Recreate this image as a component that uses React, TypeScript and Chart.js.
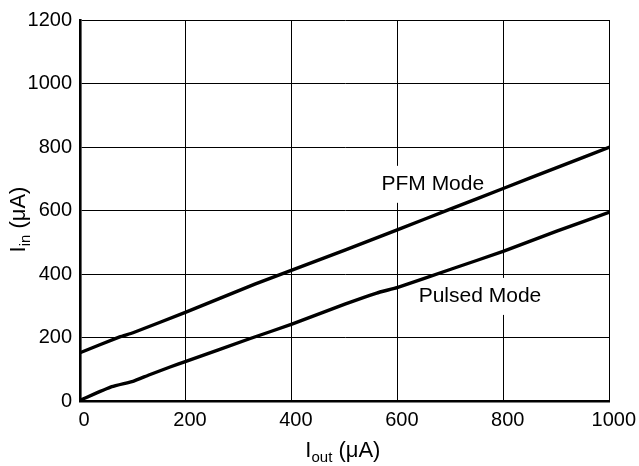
import { useEffect, useRef } from 'react';
import { Chart, registerables } from 'chart.js';

Chart.register(...registerables);

const FONT = '"Liberation Sans", Arial, Helvetica, sans-serif';

// PFM Mode curve (Iout µA -> Iin µA)
const pfmX = [0, 75, 100, 200, 330, 400, 500, 600, 700, 800, 900, 1000];
const pfmY = [152, 202, 215, 280, 368, 412, 475, 540, 605, 670, 735, 800];

// Pulsed Mode curve
const pulsedX = [0, 60, 100, 130, 170, 200, 320, 400, 500, 560, 600, 700, 800, 900, 1000];
const pulsedY = [2, 45, 62, 82, 107, 125, 196, 242, 305, 340, 358, 415, 472, 535, 595];

// Axis ranges / ticks
const xTicks = [0, 200, 400, 600, 800, 1000];
const yTicks = [0, 200, 400, 600, 800, 1000, 1200];

// In-plot labels (data coordinates of their centres)
const modeLabels = [
  { text: 'PFM Mode', x: 666, y: 684 },
  { text: 'Pulsed Mode', x: 755, y: 331 },
];

const modeLabelPlugin = {
  id: 'modeLabels',
  beforeDatasetsDraw(chart: any) {
    const { ctx, scales } = chart;
    ctx.save();
    ctx.font = `21px ${FONT}`;
    ctx.fillStyle = '#ffffff';
    modeLabels.forEach((l) => {
      const px = scales.x.getPixelForValue(l.x);
      const py = scales.y.getPixelForValue(l.y);
      const w = ctx.measureText(l.text).width;
      ctx.fillRect(px - w / 2 - 6, py - 18, w + 12, 37);
    });
    ctx.restore();
  },
  afterDatasetsDraw(chart: any) {
    const { ctx, scales } = chart;
    ctx.save();
    ctx.font = `21px ${FONT}`;
    ctx.fillStyle = '#000000';
    ctx.textAlign = 'center';
    ctx.textBaseline = 'middle';
    modeLabels.forEach((l) => {
      ctx.fillText(l.text, scales.x.getPixelForValue(l.x), scales.y.getPixelForValue(l.y));
    });
    ctx.restore();
  },
};

function drawSubTitle(ctx: CanvasRenderingContext2D, main: string, sub: string, rest: string) {
  const big = `22px ${FONT}`;
  const small = `15px ${FONT}`;
  ctx.font = big;
  const w1 = ctx.measureText(main).width;
  const w3 = ctx.measureText(rest).width;
  ctx.font = small;
  const w2 = ctx.measureText(sub).width;
  const total = w1 + w2 + w3;
  let x = -total / 2;
  ctx.textAlign = 'left';
  ctx.textBaseline = 'alphabetic';
  ctx.font = big;
  ctx.fillText(main, x, 0);
  x += w1;
  ctx.font = small;
  ctx.fillText(sub, x, 5);
  x += w2;
  ctx.font = big;
  ctx.fillText(rest, x, 0);
}

const axisTitlePlugin = {
  id: 'axisTitles',
  afterDraw(chart: any) {
    const { ctx, chartArea } = chart;
    ctx.save();
    ctx.fillStyle = '#000000';
    ctx.translate((chartArea.left + chartArea.right) / 2 - 2, chartArea.bottom + 56);
    drawSubTitle(ctx, 'I', 'out', ' (\u03BCA)');
    ctx.restore();

    ctx.save();
    ctx.fillStyle = '#000000';
    ctx.translate(chartArea.left - 55, (chartArea.top + chartArea.bottom) / 2 + 9);
    ctx.rotate(-Math.PI / 2);
    drawSubTitle(ctx, 'I', 'in', ' (\u03BCA)');
    ctx.restore();
  },
};

export default function App() {
  const canvasRef = useRef<HTMLCanvasElement | null>(null);

  useEffect(() => {
    const canvas = canvasRef.current;
    if (!canvas) return;
    const chart = new Chart(canvas, {
      type: 'line',
      data: {
        datasets: [
          {
            label: 'PFM Mode',
            data: pfmX.map((x, i) => ({ x, y: pfmY[i] })),
            borderColor: '#000000',
            borderWidth: 3.4,
            pointRadius: 0,
            tension: 0.15,
            fill: false,
          },
          {
            label: 'Pulsed Mode',
            data: pulsedX.map((x, i) => ({ x, y: pulsedY[i] })),
            borderColor: '#000000',
            borderWidth: 3.4,
            pointRadius: 0,
            tension: 0.15,
            fill: false,
          },
        ],
      },
      options: {
        responsive: false,
        animation: false,
        devicePixelRatio: 1,
        layout: { padding: { top: 17, right: 29, bottom: 0, left: 0 } },
        plugins: {
          legend: { display: false },
          tooltip: { enabled: false },
        },
        scales: {
          x: {
            type: 'linear',
            min: xTicks[0],
            max: xTicks[xTicks.length - 1],
            afterFit: (s: any) => { s.height = 65; },
            afterBuildTicks: (s: any) => { s.ticks = xTicks.map((v) => ({ value: v })); },
            grid: { color: '#000000', lineWidth: 1, drawTicks: false },
            border: { color: '#000000', width: 2.6 },
            ticks: {
              color: '#000000',
              font: { family: FONT, size: 20 },
              padding: 7,
              labelOffset: 4,
              maxRotation: 0,
              callback: (v: any) => String(v),
            },
          },
          y: {
            type: 'linear',
            min: yTicks[0],
            max: yTicks[yTicks.length - 1],
            afterFit: (s: any) => { s.width = 80; },
            afterBuildTicks: (s: any) => { s.ticks = yTicks.map((v) => ({ value: v })); },
            grid: { color: '#000000', lineWidth: 1, drawTicks: false },
            border: { color: '#000000', width: 2.6 },
            ticks: {
              color: '#000000',
              font: { family: FONT, size: 20 },
              padding: 8,
              callback: (v: any) => String(v),
            },
          },
        },
      },
      plugins: [modeLabelPlugin, axisTitlePlugin],
    });
    return () => chart.destroy();
  }, []);

  return (
    <div style={{ position: 'fixed', left: 0, top: 0, width: 639, height: 466, background: '#fff' }}>
      <canvas ref={canvasRef} width={639} height={466} style={{ width: 639, height: 466 }} />
    </div>
  );
}
